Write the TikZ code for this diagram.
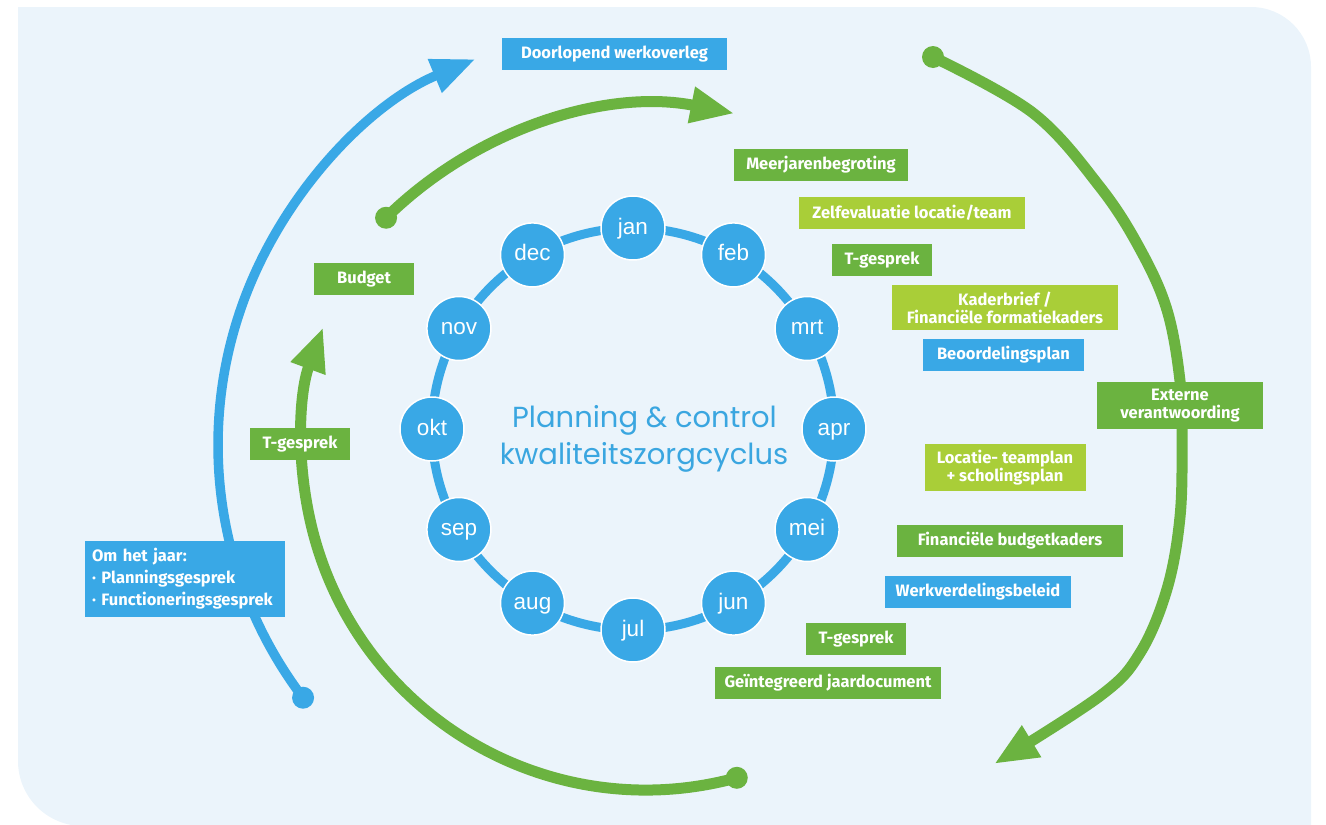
\documentclass[tikz,border=0pt]{standalone}
\usepackage{fontspec}
\setmainfont{Fira Sans}
\newfontfamily\monthfont{Liberation Sans}
\newfontfamily\ctrfont{Poppins}
\usetikzlibrary{arrows.meta,calc}
\definecolor{pcblue}{RGB}{57,168,230}
\definecolor{pcgreen}{RGB}{107,179,64}
\definecolor{pclime}{RGB}{169,206,56}
\definecolor{pcbg}{RGB}{235,244,251}
\definecolor{pctitle}{RGB}{58,166,224}
\begin{document}
\begin{tikzpicture}[x=1pt,y=-1pt,
  labbox/.style={inner sep=0pt, minimum height=32pt, text=white,
    font=\fontsize{16.5}{18}\selectfont\bfseries, align=center},
  bluebox/.style={labbox, fill=pcblue},
  greenbox/.style={labbox, fill=pcgreen},
  limebox/.style={labbox, fill=pclime},
  month/.style={circle, fill=pcblue, draw=white, line width=1.5pt,
    minimum size=64pt, inner sep=0pt, text=white,
    font=\monthfont\fontsize{22.5}{22.5}\selectfont, text height=12pt, text depth=0pt},
  ringline/.style={draw=pcblue, line width=9pt},
  bluearc/.style={draw=pcblue, line width=9.5pt, -{Triangle[length=44pt,width=34pt]}},
  greenarc/.style={draw=pcgreen, line width=11pt, -{Triangle[length=44pt,width=34pt]}},
  bluedot/.style={circle, fill=pcblue, minimum size=22pt, inner sep=0pt},
  greendot/.style={circle, fill=pcgreen, minimum size=22pt, inner sep=0pt},
  titletext/.style={text=pctitle, font=\ctrfont\fontsize{29}{34}\selectfont, inner sep=0pt},
]
\useasboundingbox (0,0) rectangle (1326,825);
% background panel
\fill[pcbg] (18,7) -- (1251,7) arc[start angle=-90, end angle=0, radius=60]
  -- (1311,826) -- (83,826) arc[start angle=90, end angle=180, radius=65] -- cycle;

% ---- outer arcs ----
\coordinate (bcen) at (636,445);
\coordinate (bstart) at ($(bcen)+(142.8:418)$);
\draw[bluearc] (bstart) arc[start angle=142.8, end angle=247.4, radius=418];
\node[bluedot] (bdot) at (bstart) {};

\coordinate (gtcen) at (658.5,494);
\coordinate (gtstart) at ($(gtcen)+(225.4:388)$);
\draw[greenarc] (gtstart) arc[start angle=225.4, end angle=281.3, radius=388];
\node[greendot] (gtdot) at (gtstart) {};

\coordinate (gbcen) at (646,446);
\coordinate (gbstart) at ($(gbcen)+(74.7:344)$);
\draw[greenarc] (gbstart) arc[start angle=74.7, end angle=200.2, radius=344];
\node[greendot] (gbdot) at (gbstart) {};

\coordinate (grstart) at (933,57);
\coordinate (grend) at (994,764);
\draw[greenarc] plot[smooth, tension=0.6] coordinates {(grstart) (1033,113) (1100,187) (1140,249)
  (1167,310) (1180,381) (1182,440) (1180,517) (1167,589) (1140,653) (1100,696) (grend)};
\node[greendot] (grdot) at (grstart) {};

% ---- month ring ----
\coordinate (ctr) at (633,429);
\draw[ringline] (ctr) circle[radius=201];
\foreach \m/\a in {jan/-90, feb/-60, mrt/-30, apr/0, mei/30, jun/60,
                   jul/90, aug/120, sep/150, okt/180, nov/210, dec/240}
  \node[month] (\m) at ($(ctr)+(\a:201)$) {\m};

\node[titletext, anchor=base] (title1) at (644.5,427) {Planning \& control};
\node[titletext, anchor=base] (title2) at (644,464) {kwaliteitszorgcyclus};

% ---- labels ----
\node[bluebox, minimum width=225pt] (doorlopend) at (614.5,54) {Doorlopend werkoverleg};
\node[greenbox, minimum width=174pt] (meerjaren) at (821,165) {Meerjarenbegroting};
\node[limebox, minimum width=226pt] (zelfeval) at (912,213) {Zelfevaluatie locatie/team};
\node[greenbox, minimum width=100pt] (tgesprek1) at (882,260) {T-gesprek};
\node[limebox, minimum width=226pt, minimum height=45pt] (kaderbrief) at (1005,307.5)
  {Kaderbrief /\\Financiële formatiekaders};
\node[bluebox, minimum width=161pt] (beoordeling) at (1003.5,355) {Beoordelingsplan};
\node[greenbox, minimum width=166pt, minimum height=47pt] (extern) at (1180,405.5)
  {Externe\\verantwoording};
\node[limebox, minimum width=161pt, minimum height=47pt] (locatie) at (1005,467.5)
  {Locatie- teamplan\\+ scholingsplan};
\node[greenbox, minimum width=226pt] (finbudget) at (1010,541) {Financiële budgetkaders};
\node[bluebox, minimum width=186pt] (werkverdeling) at (978,592) {Werkverdelingsbeleid};
\node[greenbox, minimum width=100pt] (tgesprek2) at (856,639) {T-gesprek};
\node[greenbox, minimum width=226pt] (jaardoc) at (828,683) {Geïntegreerd jaardocument};
\node[greenbox, minimum width=100pt] (budget) at (364,279) {Budget};
\node[greenbox, minimum width=100pt] (tgesprek3) at (300,444) {T-gesprek};
\node[bluebox, text width=186pt, inner xsep=7pt, minimum height=76pt, align=left,
  font=\fontsize{16.5}{22}\selectfont\bfseries] (omhetjaar) at (185,579)
  {Om het jaar:\\· Planningsgesprek\\· Functioneringsgesprek};
\end{tikzpicture}
\end{document}
